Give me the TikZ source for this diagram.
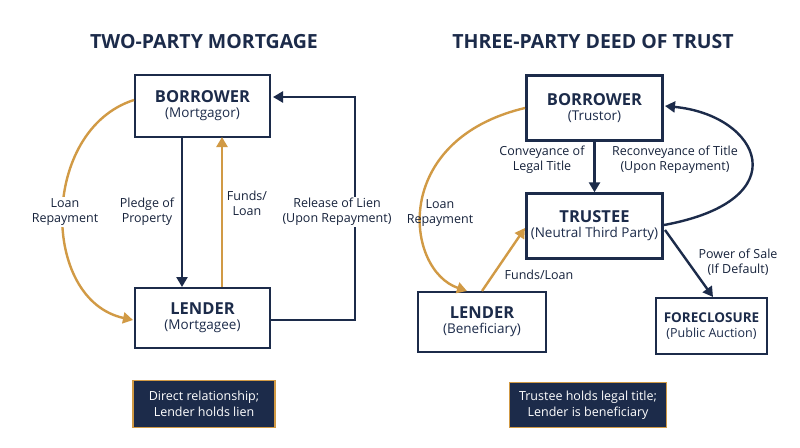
\documentclass[tikz,border=0pt]{standalone}
\usepackage{fontspec}
\setmainfont{Open Sans}
\usetikzlibrary{arrows.meta}
\definecolor{navy}{HTML}{1C2B4A}
\definecolor{gold}{HTML}{D19A45}
\begin{document}
\begin{tikzpicture}[x=1pt,y=-1pt,
 box/.style={draw=navy,line width=2.4pt,fill=white,align=center,text=navy,inner sep=0pt},
 nv/.style={draw=navy,line width=2.4pt,-{Triangle[length=10pt,width=11pt]}},
 gd/.style={draw=gold,line width=2.4pt,-{Triangle[length=10pt,width=11pt]}},
 lbl/.style={font=\fontsize{12.5}{15}\selectfont,text=navy!80!black,align=center,fill=white,inner sep=1.5pt},
 ttl/.style={font=\fontsize{19.5}{22}\selectfont\bfseries,text=navy},
 note/.style={fill=navy,draw=gold,line width=1.8pt,text=white,align=center,font=\fontsize{12.5}{15.5}\selectfont,inner sep=0pt}]
\path[use as bounding box,fill=white] (0,0) rectangle (800,447);
\newcommand{\bx}[3]{{\fontsize{16.5}{19}\selectfont\bfseries #1}\\[3pt]{\fontsize{13.5}{16}\selectfont #2}}
% left
\node[ttl] (t1) at (204,42) {TWO-PARTY MORTGAGE};
\node[box,minimum width=135pt,minimum height=62pt] (b1) at (202.5,106) {\bx{BORROWER}{(Mortgagor)}{}};
\node[box,minimum width=135pt,minimum height=60pt] (l1) at (202.5,318) {\bx{LENDER}{(Mortgagee)}{}};
\draw[nv] (182,137) -- (182,287) coordinate (p1);
\draw[gd] (222,287) -- (222,137);
\coordinate (rl1) at (355,320);
\coordinate (rl2) at (355,97);
\draw[nv] (271,320) -- (rl1) -- (rl2) -- (273,97);
\draw[gd] (134,100) .. controls (40,130) and (40,300) .. (133,320);
\node[lbl] (a1) at (65,212) {Loan\\Repayment};
\node[lbl,fill=none] (a2) at (147,212) {Pledge of\\Property};
\node[lbl,fill=none] (a3) at (247,203) {Funds/\\Loan};
\node[lbl] (a4) at (337,212) {Release of Lien\\(Upon Repayment)};
\node[note,minimum width=142pt,minimum height=47pt] (n1) at (204,404) {Direct relationship;\\Lender holds lien};
% right
\node[ttl] (t2) at (593,42) {THREE-PARTY DEED OF TRUST};
\node[box,minimum width=136pt,minimum height=65pt] (b2) at (594.5,108) {\bx{BORROWER}{(Trustor)}{}};
\node[box,minimum width=136pt,minimum height=65pt] (tr) at (594.5,226) {\bx{TRUSTEE}{(Neutral Third Party)}{}};
\node[box,minimum width=128pt,minimum height=60pt] (l2) at (482,322) {\bx{LENDER}{(Beneficiary)}{}};
\node[box,minimum width=111pt,minimum height=56pt] (fc) at (711.5,326) {{\fontsize{13.5}{16}\selectfont\bfseries FORECLOSURE}\\[3pt]{\fontsize{12.5}{15}\selectfont (Public Auction)}};
\draw[nv] (b2.south) -- (tr.north);
\draw[nv] (664,225) .. controls (800,200) and (760,115) .. (665,106);
\draw[gd] (525,108) .. controls (390,140) and (405,270) .. (467,291);
\draw[gd] (482,291) -- (525,228);
\draw[nv] (665,230) -- (713,297);
\node[lbl,fill=none] (c1) at (542,160) {Conveyance of\\Legal Title};
\node[lbl,fill=none] (c2) at (675,160) {Reconveyance of Title\\(Upon Repayment)};
\node[lbl,fill=none] (c3) at (440,213) {Loan\\Repayment};
\node[lbl,fill=none] (c4) at (539,275) {Funds/Loan};
\node[lbl,fill=none] (c5) at (738,262) {Power of Sale\\(If Default)};
\node[note,minimum width=157pt,minimum height=45pt] (n2) at (588,405) {Trustee holds legal title;\\Lender is beneficiary};
\end{tikzpicture}
\end{document}
